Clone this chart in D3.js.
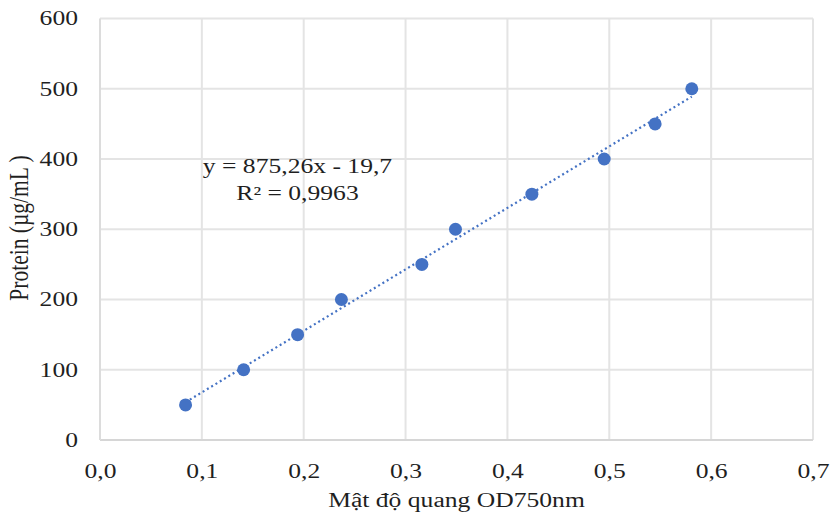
<!DOCTYPE html>
<html>
<head>
<meta charset="utf-8">
<script src="https://cdn.jsdelivr.net/npm/d3@7"></script>
<style>
  body { margin: 0; background: #fff; }
  text { font-family: "Liberation Serif", "Times New Roman", serif; fill: #1f1f1f; }
</style>
</head>
<body>
<div id="chart"></div>
<script>
// OD750 readings vs protein standards
var odValues = [0.084, 0.141, 0.194, 0.237, 0.316, 0.349, 0.424, 0.495, 0.545, 0.581];
var proteinValues = [50, 100, 150, 200, 250, 300, 350, 400, 450, 500];
var xTicks = [0, 0.1, 0.2, 0.3, 0.4, 0.5, 0.6, 0.7];
var yTicks = [0, 100, 200, 300, 400, 500, 600];
var slope = 875.26, intercept = -19.7;
var eqLines = ["y = 875,26x - 19,7", "R² = 0,9963"];

var width = 831, height = 519;
var margin = { left: 100, right: 18, top: 18.5, bottom: 79 };
var stretch = 1.28; // the source picture is a bit wide, text looks stretched

var svg = d3.select("#chart").append("svg")
    .attr("width", width)
    .attr("height", height);

var x = d3.scaleLinear().domain([0, 0.7]).range([margin.left, width - margin.right]);
var y = d3.scaleLinear().domain([0, 600]).range([height - margin.bottom, margin.top]);

var fmt = function (d) { return d3.format(".1f")(d).replace(".", ","); };

// grid
svg.append("g").selectAll("line")
    .data(yTicks.slice(1))
    .enter().append("line")
    .attr("x1", x(0)).attr("x2", x(0.7))
    .attr("y1", function (d) { return y(d); })
    .attr("y2", function (d) { return y(d); })
    .attr("stroke", "#e4e4e4").attr("stroke-width", 2);

svg.append("g").selectAll("line")
    .data(xTicks.slice(1))
    .enter().append("line")
    .attr("y1", y(0)).attr("y2", y(600))
    .attr("x1", function (d) { return x(d); })
    .attr("x2", function (d) { return x(d); })
    .attr("stroke", "#e4e4e4").attr("stroke-width", 2);

// axes lines
svg.append("line")
    .attr("x1", x(0)).attr("x2", x(0.7)).attr("y1", y(0)).attr("y2", y(0))
    .attr("stroke", "#d6d6d6").attr("stroke-width", 2);
svg.append("line")
    .attr("x1", x(0)).attr("x2", x(0)).attr("y1", y(0)).attr("y2", y(600))
    .attr("stroke", "#dcdcdc").attr("stroke-width", 2);

// tick labels
var xAxis = d3.axisBottom(x).tickValues(xTicks).tickFormat(fmt).tickSize(0).tickPadding(24);
var gx = svg.append("g").attr("transform", "translate(0," + y(0) + ")").call(xAxis);
gx.select(".domain").remove();
gx.selectAll("text")
    .style("font-size", "20px").style("font-family", "Liberation Serif")
    .attr("fill", "#1f1f1f")
    .attr("transform", "scale(" + stretch + ",1)");

var yAxis = d3.axisLeft(y).tickValues(yTicks).tickSize(0).tickPadding(22 / stretch);
var gy = svg.append("g").attr("transform", "translate(" + x(0) + ",0)").call(yAxis);
gy.select(".domain").remove();
gy.selectAll("text")
    .style("font-size", "20px").style("font-family", "Liberation Serif")
    .attr("fill", "#1f1f1f")
    .attr("transform", "scale(" + stretch + ",1)");

// trendline
var xMin = d3.min(odValues), xMax = d3.max(odValues);
svg.append("line")
    .attr("x1", x(xMin)).attr("y1", y(slope * xMin + intercept))
    .attr("x2", x(xMax)).attr("y2", y(slope * xMax + intercept))
    .attr("stroke", "#4472c4").attr("stroke-width", 2.2)
    .attr("stroke-dasharray", "2,3");

// points
svg.append("g").selectAll("circle")
    .data(odValues)
    .enter().append("circle")
    .attr("cx", function (d) { return x(d); })
    .attr("cy", function (d, i) { return y(proteinValues[i]); })
    .attr("r", 6.5)
    .attr("fill", "#4472c4");

// equation
svg.append("g").selectAll("text")
    .data(eqLines)
    .enter().append("text")
    .attr("transform", function (d, i) {
        return "translate(297.5," + (173 + i * 27) + ") scale(" + stretch + ",1)";
    })
    .attr("text-anchor", "middle")
    .style("font-size", "20px")
    .text(function (d) { return d; });

// axis titles
svg.append("text")
    .attr("transform", "translate(" + (x(0) + x(0.7)) / 2 + ",507) scale(" + stretch + ",1)")
    .attr("text-anchor", "middle")
    .style("font-size", "20px")
    .text("Mật độ quang OD750nm");

svg.append("text")
    .attr("transform", "translate(28,228) rotate(-90) scale(1," + stretch + ")")
    .attr("text-anchor", "middle")
    .style("font-size", "21.5px")
    .text("Protein (µg/mL )");
</script>
</body>
</html>
